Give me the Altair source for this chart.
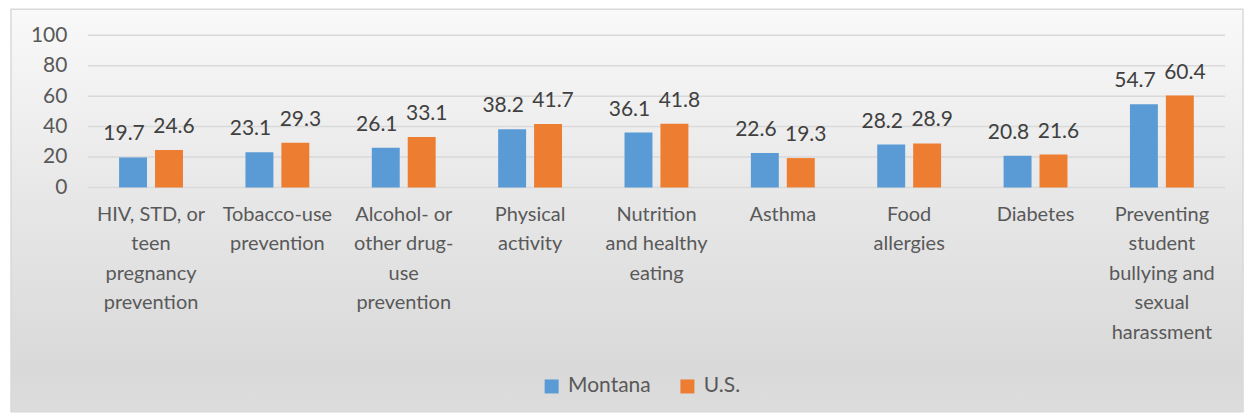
import altair as alt
import pandas as pd

# ---- data ----
categories = [
    "HIV, STD, or|teen|pregnancy|prevention",
    "Tobacco-use|prevention",
    "Alcohol- or|other drug-|use|prevention",
    "Physical|activity",
    "Nutrition|and healthy|eating",
    "Asthma",
    "Food|allergies",
    "Diabetes",
    "Preventing|student|bullying and|sexual|harassment",
]
series = ["Montana", "U.S."]
montana = [19.7, 23.1, 26.1, 38.2, 36.1, 22.6, 28.2, 20.8, 54.7]
us = [24.6, 29.3, 33.1, 41.7, 41.8, 19.3, 28.9, 21.6, 60.4]
y_ticks = [0, 20, 40, 60, 80, 100]
colors = ["#5B9BD5", "#ED7D31"]

rows = []
for c, m, u in zip(categories, montana, us):
    rows.append({"cat": c, "series": "Montana", "value": m})
    rows.append({"cat": c, "series": "U.S.", "value": u})
df = pd.DataFrame(rows)
grid_df = pd.DataFrame({"value": y_ticks})

FONT = "Lato"
W = 1139
H = 152.4

x_scale = alt.Scale(paddingInner=0.4945, paddingOuter=0.247)
y_scale = alt.Scale(domain=[0, 100], nice=False)
xoff_scale = alt.Scale(paddingInner=0.2222, paddingOuter=0)

x_axis = alt.Axis(
    title=None,
    labelAngle=0,
    domain=False,
    ticks=False,
    grid=False,
    zindex=1,
    labelPadding=17,
    labelExpr="split(datum.value, '|')",
    labelLineHeight=29.5,
    labelFontSize=20,
    labelFont=FONT,
    labelColor="#595959",
    labelLimit=0,
    labelBaseline="top",
)
y_axis = alt.Axis(
    title=None,
    values=y_ticks,
    grid=False,
    domain=False,
    ticks=False,
    zindex=1,
    labelPadding=21,
    labelFontSize=21,
    labelFont=FONT,
    labelColor="#595959",
)


def X():
    return alt.X("cat:N", sort=categories, scale=x_scale, axis=x_axis)


def Y():
    return alt.Y("value:Q", scale=y_scale, axis=y_axis)


bg = (
    alt.Chart(alt.Data(values=[{"a": 1}]))
    .mark_rect(
        fill=alt.LinearGradient(
            gradient="linear",
            stops=[
                alt.GradientStop(color="#f9f9f9", offset=0),
                alt.GradientStop(color="#e6e6e6", offset=0.5),
                alt.GradientStop(color="#d9d9d9", offset=0.9),
                alt.GradientStop(color="#dddddd", offset=1),
            ],
            x1=0, x2=0, y1=0, y2=1,
        ),
        stroke="#d9d9d9",
        strokeWidth=1.5,
    )
    .encode(
        x=alt.value(-77), x2=alt.value(1157), y=alt.value(-26), y2=alt.value(377)
    )
)

grid = (
    alt.Chart(grid_df)
    .mark_rule(color="#d9d9d9", strokeWidth=1.5)
    .encode(y=Y())
)

bars = (
    alt.Chart(df)
    .mark_bar()
    .encode(
        x=X(),
        xOffset=alt.XOffset("series:N", sort=series, scale=xoff_scale),
        y=Y(),
        color=alt.Color(
            "series:N",
            sort=series,
            scale=alt.Scale(domain=series, range=colors),
            legend=alt.Legend(
                title=None,
                orient="none",
                legendX=454,
                legendY=341,
                direction="horizontal",
                symbolType="square",
                symbolSize=196,
                symbolStrokeWidth=0,
                symbolOpacity=1,
                labelFont=FONT,
                labelFontSize=21,
                labelColor="#595959",
                labelOffset=6,
                columnPadding=26,
            ),
        ),
    )
)


def value_labels(name, dx):
    return (
        alt.Chart(df)
        .transform_filter(alt.datum.series == name)
        .mark_text(
            font=FONT, fontSize=21, color="#404040", baseline="alphabetic",
            dy=-17, dx=dx,
        )
        .encode(
            x=X(),
            xOffset=alt.XOffset("series:N", sort=series, scale=xoff_scale),
            y=Y(),
            text=alt.Text("value:Q", format=".1f"),
        )
    )


chart = (
    alt.layer(bg, grid, bars, value_labels("Montana", -9), value_labels("U.S.", 5))
    .properties(
        width=W,
        height=H,
        padding={"left": 2, "top": 0, "right": 0, "bottom": 0},
    )
    .configure_view(stroke=None)
)

chart.save("out.html", embed_options={"renderer": "svg", "actions": False})
